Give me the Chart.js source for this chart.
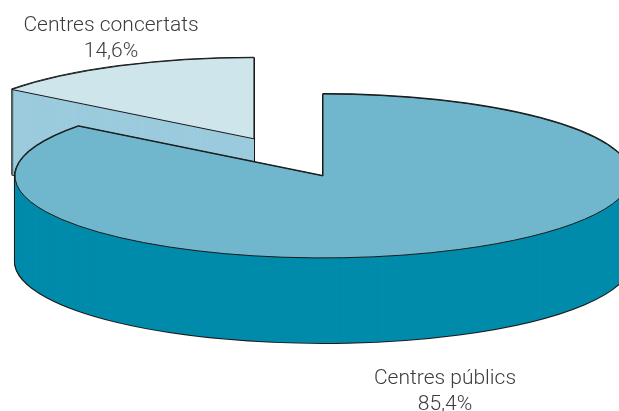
<!DOCTYPE html>
<html>
<head>
<meta charset="utf-8">
<style>
html, body { margin: 0; padding: 0; background: #fff; overflow: hidden; }
canvas { display: block; }
</style>
<script src="https://cdn.jsdelivr.net/npm/chart.js@4"></script>
</head>
<body>
<canvas id="pie" width="619" height="411"></canvas>
<script>
const categories = ['Centres concertats', 'Centres públics'];
const shares = [14.6, 85.4];
const topColors = ['#CFE5EC', '#70B7CE'];
const sideColors = ['#9BCBDD', '#008BAB'];
const lineColor = '#1a1a1a';

// look of the tilted pie
const centerX = 323, centerY = 176;
const radius = 308;
const squash = 0.266;
const depth = 85;
const explode = [156, 0];
const shrink = [3, 0];

// where the labels go
const labelPos = [[111, 24, 50], [445, 377, 403]];

function fmt(v) {
    return v.toFixed(1).replace('.', ',') + '%';
}

const tilted = {
    id: 'tilted',
    afterDatasetsUpdate(chart) {
        // pull the slices out by hand, the offset option also changes their angles
        chart.getDatasetMeta(0).data.forEach((arc, i) => {
            const mid = (arc.startAngle + arc.endAngle) / 2;
            arc.x += Math.cos(mid) * explode[i];
            arc.y += Math.sin(mid) * explode[i];
            arc.outerRadius -= shrink[i];
        });
    },
    beforeDatasetsDraw(chart) {
        const ctx = chart.ctx;
        const arcs = chart.getDatasetMeta(0).data;
        ctx.save();
        ctx.translate(centerX, centerY);
        ctx.scale(1, squash);
        ctx.translate(-arcs[1].x, -arcs[1].y);

        // outlines stay even, path is already squashed when stroke runs
        const stroke = ctx.stroke;
        ctx.stroke = function () {
            ctx.save();
            ctx.setTransform(1, 0, 0, 1, 0, 0);
            stroke.call(ctx);
            ctx.restore();
        };

        // the wall: same arcs pushed down, outline first then fill
        arcs.forEach((arc, i) => {
            const opts = arc.options;
            arc.options = Object.assign({}, opts, { backgroundColor: 'transparent', borderColor: lineColor, borderWidth: 2 });
            for (let d = depth; d >= 0; d--) {
                ctx.save();
                ctx.translate(0, d / squash);
                arc.draw(ctx);
                ctx.restore();
            }
            arc.options = Object.assign({}, opts, { backgroundColor: sideColors[i], borderWidth: 0 });
            for (let d = depth; d >= 0; d--) {
                ctx.save();
                ctx.translate(0, d / squash);
                arc.draw(ctx);
                ctx.restore();
            }
            arc.options = opts;
        });
    },
    afterDatasetsDraw(chart) {
        delete chart.ctx.stroke;
        chart.ctx.restore();
    },
    afterDraw(chart) {
        const ctx = chart.ctx;
        ctx.save();
        ctx.font = '300 21px Roboto';
        ctx.fillStyle = '#3c3c3c';
        ctx.textAlign = 'center';
        categories.forEach((name, i) => {
            const [x, y1, y2] = labelPos[i];
            ctx.fillText(name, x, y1 + 7);
            ctx.fillText(fmt(shares[i]), x, y2 + 7);
        });
        ctx.restore();
    }
};

new Chart(document.getElementById('pie').getContext('2d'), {
    type: 'pie',
    data: {
        labels: categories,
        datasets: [{
            data: shares,
            backgroundColor: topColors,
            borderColor: lineColor,
            borderWidth: 1,
            clip: false
        }]
    },
    options: {
        responsive: false,
        animation: false,
        radius: radius,
        cutout: '0%',
        rotation: -shares[0] * 3.6,
        plugins: {
            legend: { display: false },
            tooltip: { enabled: false }
        }
    },
    plugins: [tilted]
});
</script>
</body>
</html>
